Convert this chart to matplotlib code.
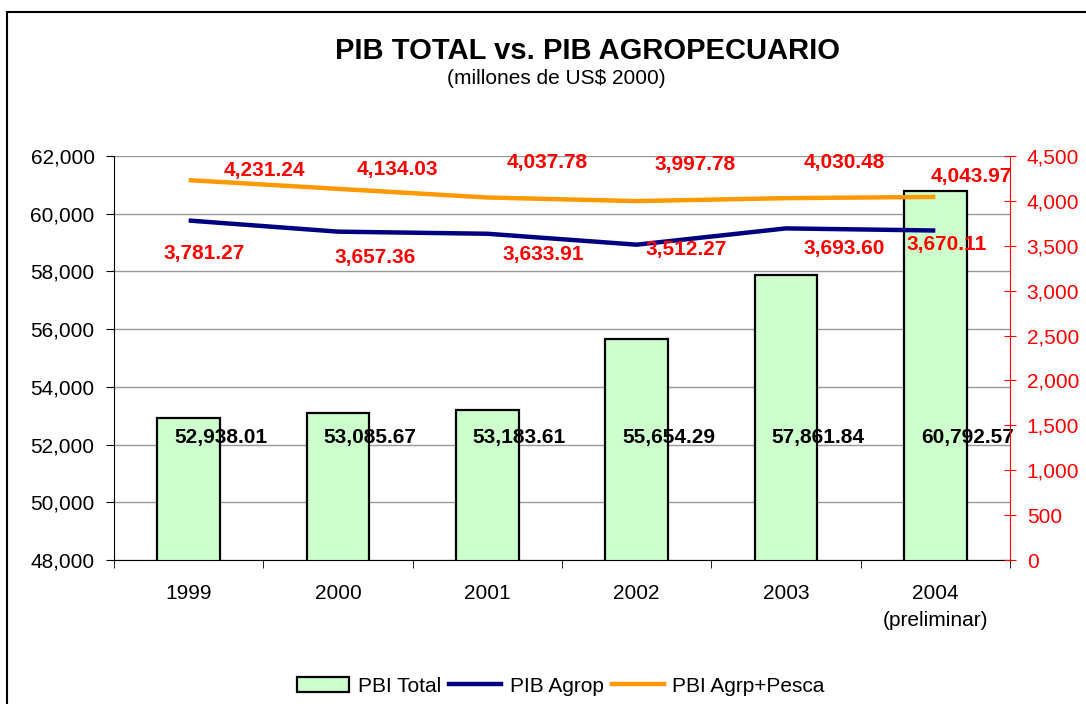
import matplotlib
matplotlib.use("Agg")
import matplotlib.pyplot as plt
from matplotlib.patches import Rectangle, Patch
from matplotlib.lines import Line2D
from matplotlib.ticker import FuncFormatter, FixedLocator

plt.rcParams['font.family'] = ['Liberation Sans', 'DejaVu Sans']

# datos (millones de US$ 2000)
years = ["1999", "2000", "2001", "2002", "2003", "2004\n(preliminar)"]
pib_total = [52938.01, 53085.67, 53183.61, 55654.29, 57861.84, 60792.57]
pib_agrop = [3781.27, 3657.36, 3633.91, 3512.27, 3693.60, 3670.11]
pib_agrp_pesca = [4231.24, 4134.03, 4037.78, 3997.78, 4030.48, 4043.97]

# desplazamiento de las etiquetas (pixeles)
off_pesca = [(76, 10), (59, 19), (60, 35), (58, 37), (58, 36), (36, 20)]
off_agrop = [(15, -33), (37, -26), (56, -21), (50, -5), (58, -20), (11, -14)]

fmt = lambda v, p=None: "{:,.0f}".format(v)

fig = plt.figure(figsize=(10.86, 7.04), dpi=100)
ax = fig.add_axes([114/1086, 1 - 560/704, (1010 - 114)/1086, (560 - 156)/704])
ax2 = ax.twinx()

x = list(range(len(years)))

# barras
ax.bar(x, pib_total, width=0.42, color="#CCFFCC", edgecolor="black", linewidth=1.6, zorder=2)
for i, v in enumerate(pib_total):
    ax.annotate("{:,.2f}".format(v), xy=(i, 52262), xytext=(32, 0), textcoords="offset pixels",
                ha="center", va="center", fontsize=15, fontweight="bold", color="black", zorder=5)

ax.set_xlim(-0.5, len(years) - 0.5)
ax.set_ylim(48000, 62000)
ax.set_yticks(range(48000, 62001, 2000))
ax.yaxis.set_major_formatter(FuncFormatter(fmt))
ax.grid(axis="y", color="#999999", linewidth=1)
ax.set_axisbelow(True)

ax.set_xticks(x)
ax.set_xticklabels(years, fontsize=15, linespacing=1.55)
ax.xaxis.set_minor_locator(FixedLocator([i + 0.5 for i in range(-1, len(years))]))
ax.tick_params(axis="x", which="major", length=0, pad=17)
ax.tick_params(axis="x", which="minor", length=6, direction="out", color="black")
ax.tick_params(axis="y", labelsize=15, length=6, direction="out", pad=8)

for s in ["top", "right"]:
    ax.spines[s].set_visible(False)
ax.spines["left"].set_color("black")
ax.spines["bottom"].set_color("black")

# lineas
ax2.plot(x, pib_agrop, color="#000080", linewidth=3.2, solid_capstyle="butt", zorder=3)
ax2.plot(x, pib_agrp_pesca, color="#FF9900", linewidth=3.2, solid_capstyle="butt", zorder=3)
for i, v in enumerate(pib_agrp_pesca):
    ax2.annotate("{:,.2f}".format(v), xy=(i, v), xytext=off_pesca[i], textcoords="offset pixels",
                 ha="center", va="center", fontsize=15, fontweight="bold", color="#FF0000")
for i, v in enumerate(pib_agrop):
    ax2.annotate("{:,.2f}".format(v), xy=(i, v), xytext=off_agrop[i], textcoords="offset pixels",
                 ha="center", va="center", fontsize=15, fontweight="bold", color="#FF0000")

ax2.set_ylim(0, 4500)
ax2.set_yticks(range(0, 4501, 500))
ax2.yaxis.set_major_formatter(FuncFormatter(fmt))
ax2.tick_params(axis="y", labelsize=15, colors="#FF0000", length=8, direction="inout", pad=8)
for s in ["top", "left", "bottom"]:
    ax2.spines[s].set_visible(False)
ax2.spines["right"].set_color("#FF0000")

# titulo
fig.text(0.541, 1 - 51/704, "PIB TOTAL vs. PIB AGROPECUARIO", ha="center", va="center",
         fontsize=21, fontweight="bold")
fig.text(0.512, 1 - 78/704, "(millones de US$ 2000)", ha="center", va="center", fontsize=15)

# leyenda
handles = [Patch(facecolor="#CCFFCC", edgecolor="black", linewidth=1.6),
           Line2D([], [], color="#000080", linewidth=3.2),
           Line2D([], [], color="#FF9900", linewidth=3.2)]
fig.legend(handles, ["PBI Total", "PIB Agrop", "PBI Agrp+Pesca"], loc="center",
           bbox_to_anchor=(0.5166, 1 - 686/704), ncol=3, frameon=False, fontsize=15,
           handlelength=2.5, handletextpad=0.4, columnspacing=0.4)

# marco exterior
fig.patches.append(Rectangle((7/1086, -0.1), 1.2, 1.1 - 12/704 + 0.0, transform=fig.transFigure,
                             fill=False, edgecolor="black", linewidth=1.5))

fig.savefig("out.png", dpi=100)
